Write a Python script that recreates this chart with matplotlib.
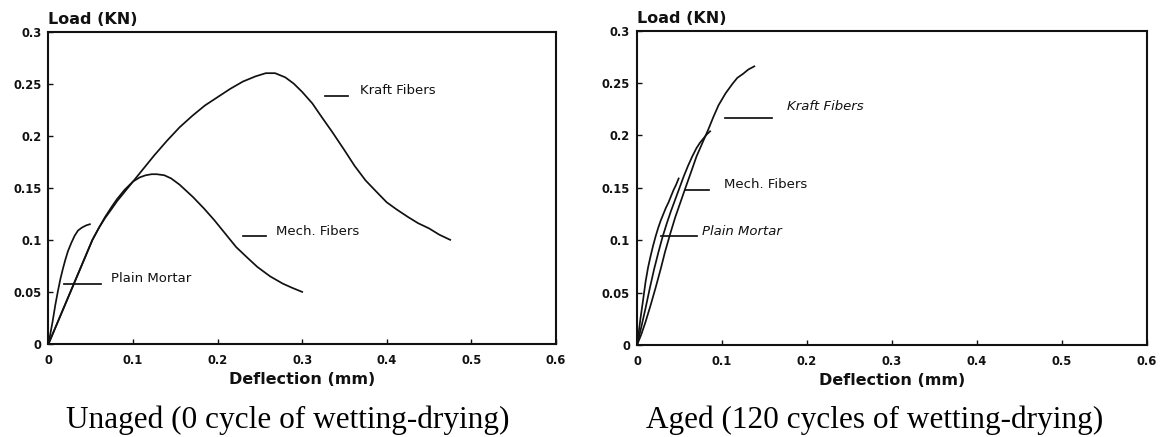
import numpy as np
import matplotlib.pyplot as plt
from matplotlib.ticker import FuncFormatter

# ---- unaged (0 cycle) ----
plain_x_0 = [0, 0.0025, 0.005, 0.008, 0.011, 0.014, 0.017, 0.020, 0.023, 0.027,
             0.031, 0.035, 0.040, 0.045, 0.049]
plain_y_0 = [0, 0.011, 0.022, 0.037, 0.050, 0.062, 0.072, 0.081, 0.089, 0.097,
             0.104, 0.109, 0.112, 0.114, 0.115]

kraft_x_0 = [0, 0.013, 0.026, 0.039, 0.052, 0.060, 0.067, 0.075, 0.081, 0.090,
             0.100, 0.112, 0.125, 0.140, 0.155, 0.170, 0.185, 0.200, 0.215, 0.230,
             0.245, 0.257, 0.268, 0.280, 0.290, 0.300, 0.312, 0.323, 0.336, 0.350,
             0.362, 0.375, 0.388, 0.400, 0.412, 0.425, 0.437, 0.450, 0.462, 0.475]
kraft_y_0 = [0, 0.025, 0.050, 0.075, 0.100, 0.112, 0.121, 0.130, 0.137, 0.146,
             0.156, 0.168, 0.181, 0.195, 0.208, 0.219, 0.229, 0.237, 0.245, 0.252,
             0.257, 0.260, 0.260, 0.256, 0.250, 0.242, 0.231, 0.218, 0.203, 0.186,
             0.171, 0.157, 0.146, 0.136, 0.129, 0.122, 0.116, 0.111, 0.105, 0.100]

mech_x_0 = [0, 0.013, 0.026, 0.039, 0.052, 0.060, 0.067, 0.075, 0.081, 0.090,
            0.100, 0.108, 0.115, 0.122, 0.128, 0.137, 0.145, 0.155, 0.163, 0.171,
            0.184, 0.196, 0.209, 0.222, 0.235, 0.247, 0.262, 0.277, 0.288, 0.300]
mech_y_0 = [0, 0.025, 0.050, 0.075, 0.100, 0.112, 0.122, 0.132, 0.139, 0.148,
            0.156, 0.160, 0.162, 0.163, 0.163, 0.162, 0.159, 0.153, 0.147, 0.141,
            0.130, 0.119, 0.106, 0.093, 0.083, 0.074, 0.065, 0.058, 0.054, 0.050]

# ---- aged (120 cycles) ----
plain_x_1 = [0, 0.002, 0.004, 0.007, 0.010, 0.013, 0.016, 0.019, 0.022, 0.025,
             0.028, 0.031, 0.034, 0.037, 0.040, 0.043, 0.046, 0.049]
plain_y_1 = [0, 0.012, 0.025, 0.042, 0.060, 0.074, 0.085, 0.095, 0.104, 0.112,
             0.119, 0.125, 0.131, 0.136, 0.142, 0.148, 0.153, 0.159]

mech_x_1 = [0, 0.005, 0.010, 0.015, 0.020, 0.025, 0.030, 0.035, 0.040, 0.045,
            0.050, 0.055, 0.060, 0.065, 0.070, 0.074, 0.078, 0.082, 0.086]
mech_y_1 = [0, 0.017, 0.035, 0.054, 0.072, 0.088, 0.103, 0.116, 0.128, 0.139,
            0.150, 0.161, 0.171, 0.180, 0.188, 0.193, 0.197, 0.201, 0.204]

kraft_x_1 = [0, 0.005, 0.010, 0.016, 0.022, 0.028, 0.033, 0.039, 0.045, 0.051,
             0.057, 0.064, 0.070, 0.077, 0.084, 0.090, 0.096, 0.104, 0.112, 0.118,
             0.125, 0.131, 0.138]
kraft_y_1 = [0, 0.010, 0.022, 0.038, 0.055, 0.073, 0.089, 0.106, 0.122, 0.136,
             0.150, 0.166, 0.180, 0.193, 0.206, 0.218, 0.229, 0.240, 0.249, 0.255,
             0.259, 0.263, 0.266]

# label text, leader x-range, leader y, text x, text y, italic
labels_0 = [
    ("Kraft Fibers", 0.3275, 0.3537, 0.238, 0.368, 0.243, False),
    ("Mech. Fibers", 0.230, 0.2577, 0.104, 0.269, 0.108, False),
    ("Plain Mortar", 0.0188, 0.062, 0.0577, 0.074, 0.063, False),
]
labels_1 = [
    ("Kraft Fibers", 0.104, 0.159, 0.2166, 0.176, 0.2275, True),
    ("Mech. Fibers", 0.057, 0.085, 0.148, 0.102, 0.1535, False),
    ("Plain Mortar", 0.028, 0.071, 0.1045, 0.0764, 0.108, True),
]

ink = '#111111'
fig = plt.figure(figsize=(11.62, 4.37), dpi=100)
ax0 = fig.add_axes([0.0417, 0.2128, 0.4367, 0.7151])
ax1 = fig.add_axes([0.5482, 0.2105, 0.4389, 0.7192])

fmt = FuncFormatter(lambda v, p: '%g' % round(v, 3))

def setup(ax, curves, labels):
    for xs, ys in curves:
        ax.plot(xs, ys, color=ink, lw=1.25, solid_joinstyle='round')
    for txt, x1, x2, ly, tx, ty, it in labels:
        ax.plot([x1, x2], [ly, ly], color=ink, lw=1.25)
        ax.text(tx, ty, txt, fontsize=9.5, color=ink, va='center', ha='left',
                style='italic' if it else 'normal')
    ax.set_xlim(0, 0.6)
    ax.set_ylim(0, 0.3)
    ax.set_xticks(np.arange(0, 0.61, 0.1))
    ax.set_yticks(np.arange(0, 0.31, 0.05))
    ax.xaxis.set_major_formatter(fmt)
    ax.yaxis.set_major_formatter(fmt)
    ax.tick_params(direction='in', length=3.5, width=1, colors=ink,
                   labelsize=8.3, top=False, right=False)
    ax.tick_params(axis='x', pad=7)
    ax.tick_params(axis='y', pad=5)
    for lab in ax.get_xticklabels() + ax.get_yticklabels():
        lab.set_fontweight('bold')
    for s in ax.spines.values():
        s.set_linewidth(1.5)
        s.set_color(ink)
    ax.set_xlabel('Deflection (mm)', fontsize=11.5, fontweight='bold', color=ink, labelpad=4)
    ax.text(0, 1.016, 'Load (KN)', transform=ax.transAxes, fontsize=11.5,
            fontweight='bold', color=ink, ha='left', va='bottom')

setup(ax0, [(plain_x_0, plain_y_0), (kraft_x_0, kraft_y_0), (mech_x_0, mech_y_0)], labels_0)
setup(ax1, [(plain_x_1, plain_y_1), (mech_x_1, mech_y_1), (kraft_x_1, kraft_y_1)], labels_1)

fig.text(288 / 1162, 0.0206, 'Unaged (0 cycle of wetting-drying)', family='Liberation Serif',
         fontsize=22.5, ha='center', va='baseline', color='black')
fig.text(875 / 1162, 0.0206, 'Aged (120 cycles of wetting-drying)', family='Liberation Serif',
         fontsize=22.5, ha='center', va='baseline', color='black')

fig.savefig('out.png', dpi=100, facecolor='white')
